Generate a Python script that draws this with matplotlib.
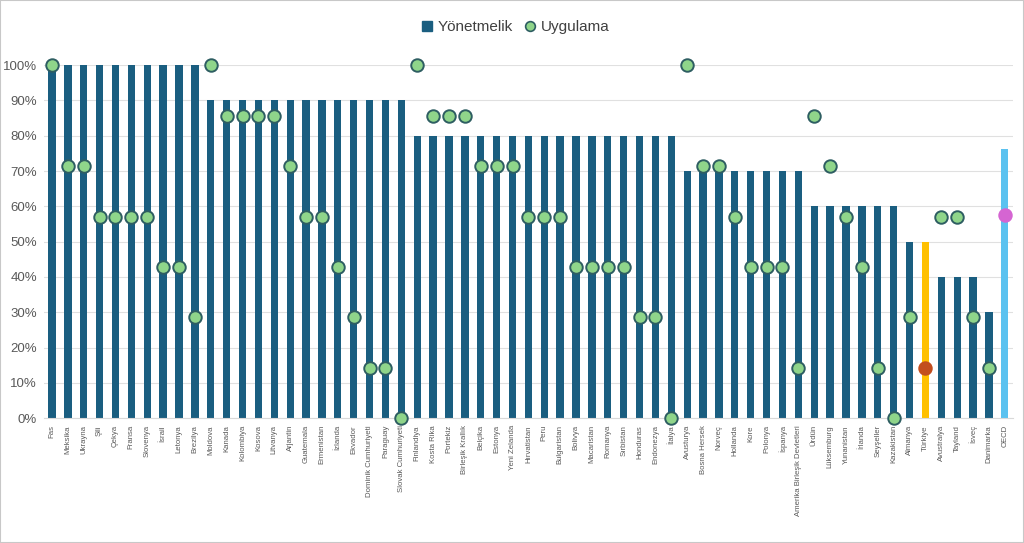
import matplotlib
matplotlib.use("Agg")
import matplotlib.pyplot as plt
from matplotlib.patches import Rectangle
from matplotlib.lines import Line2D
from matplotlib.ticker import FuncFormatter, MultipleLocator
import numpy as np

plt.rcParams["font.family"] = ["Liberation Sans", "DejaVu Sans"]

countries = ["Fas", "Meksika", "Ukrayna", "Şili", "Çekya", "Fransa", "Slovenya", "İsrail", "Letonya", "Brezilya",
             "Moldova", "Kanada", "Kolombiya", "Kosova", "Litvanya", "Arjantin", "Guatemala", "Ermenistan", "İzlanda", "Ekvador",
             "Dominik Cumhuriyeti", "Paraguay", "Slovak Cumhuriyeti", "Finlandiya", "Kosta Rika", "Portekiz", "Birleşik Krallık",
             "Belçika", "Estonya", "Yeni Zelanda", "Hırvatistan", "Peru", "Bulgaristan", "Bolivya", "Macaristan", "Romanya",
             "Sırbistan", "Honduras", "Endonezya", "İtalya", "Avusturya", "Bosna Hersek", "Norveç", "Hollanda", "Kore",
             "Polonya", "İspanya", "Amerika Birleşik Devletleri", "Ürdün", "Lüksemburg", "Yunanistan", "İrlanda", "Seyşeller",
             "Kazakistan", "Almanya", "Türkiye", "Avustralya", "Tayland", "İsveç", "Danimarka", "OECD"]

yonetmelik = [100, 100, 100, 100, 100, 100, 100, 100, 100, 100,
              90, 90, 90, 90, 90, 90, 90, 90, 90, 90,
              90, 90, 90, 80, 80, 80, 80,
              80, 80, 80, 80, 80, 80, 80, 80, 80,
              80, 80, 80, 80, 70, 70, 70, 70, 70,
              70, 70, 70, 60, 60, 60, 60, 60,
              60, 50, 50, 40, 40, 40, 30, 76.2]

uygulama = [100, 71.4, 71.4, 57.1, 57.1, 57.1, 57.1, 42.9, 42.9, 28.6,
            100, 85.7, 85.7, 85.7, 85.7, 71.4, 57.1, 57.1, 42.9, 28.6,
            14.3, 14.3, 0, 100, 85.7, 85.7, 85.7,
            71.4, 71.4, 71.4, 57.1, 57.1, 57.1, 42.9, 42.9, 42.9,
            42.9, 28.6, 28.6, 0, 100, 71.4, 71.4, 57.1, 42.9,
            42.9, 42.9, 14.3, 85.7, 71.4, 57.1, 42.9, 14.3,
            0, 28.6, 14.3, 57.1, 57.1, 28.6, 14.3, 57.5]

BAR = "#1A5E80"
BAR_TR = "#FFC000"
BAR_OECD = "#5BC2F0"
MK = "#8FD58A"
MK_EDGE = "#2E5E62"
MK_TR = "#C24E1E"
MK_OECD = "#D565D2"

fig = plt.figure(figsize=(10.24, 5.43), dpi=100)
ax = fig.add_axes([0.043, 0.230, 0.946, 0.650])

x = np.arange(len(countries))
vals = np.array(yonetmelik) / 100.0
impl = np.array(uygulama) / 100.0
bar_colors = [BAR_TR if c == "Türkiye" else BAR_OECD if c == "OECD" else BAR for c in countries]
ax.bar(x, vals, width=0.46, color=bar_colors, zorder=2)

for xi, v, c in zip(x, impl, countries):
    if c == "Türkiye":
        fc, ec = MK_TR, MK_TR
    elif c == "OECD":
        fc, ec = MK_OECD, MK_OECD
    else:
        fc, ec = MK, MK_EDGE
    ax.plot([xi], [v], marker="o", markersize=9, markerfacecolor=fc,
            markeredgecolor=ec, markeredgewidth=1.4, linestyle="none",
            zorder=3, clip_on=False)

ax.set_xlim(-0.5, len(countries) - 0.5)
ax.set_ylim(0, 1.0)
ax.yaxis.set_major_locator(MultipleLocator(0.1))
ax.yaxis.set_major_formatter(FuncFormatter(lambda v, p: f"{v*100:.0f}%"))
ax.grid(axis="y", color="#E0E0E0", linewidth=0.8, zorder=0)
ax.set_axisbelow(True)
for s in ["top", "right", "left"]:
    ax.spines[s].set_visible(False)
ax.spines["bottom"].set_color("#D9D9D9")
ax.set_xticks(x)
ax.set_xticklabels(countries, rotation=90, fontsize=5.6, color="#595959")
ax.tick_params(axis="x", length=0, pad=5)
ax.tick_params(axis="y", length=0, labelsize=9.5, labelcolor="#595959", pad=5)

handles = [Line2D([], [], marker="s", color=BAR, linestyle="none", markersize=7),
           Line2D([], [], marker="o", markerfacecolor=MK, markeredgecolor=MK_EDGE,
                  markeredgewidth=1.2, linestyle="none", markersize=7)]
fig.legend(handles, ["Yönetmelik", "Uygulama"], loc="center", bbox_to_anchor=(0.501, 0.950),
           ncol=2, frameon=False, fontsize=11, handletextpad=0.0, columnspacing=0.4,
           handlelength=1.4, labelcolor="#404040")

fig.patches.append(Rectangle((0, 0), 1, 1, transform=fig.transFigure, fill=False,
                             edgecolor="#C8C8C8", linewidth=1.5))

fig.savefig("out.png", dpi=100, facecolor="white")
